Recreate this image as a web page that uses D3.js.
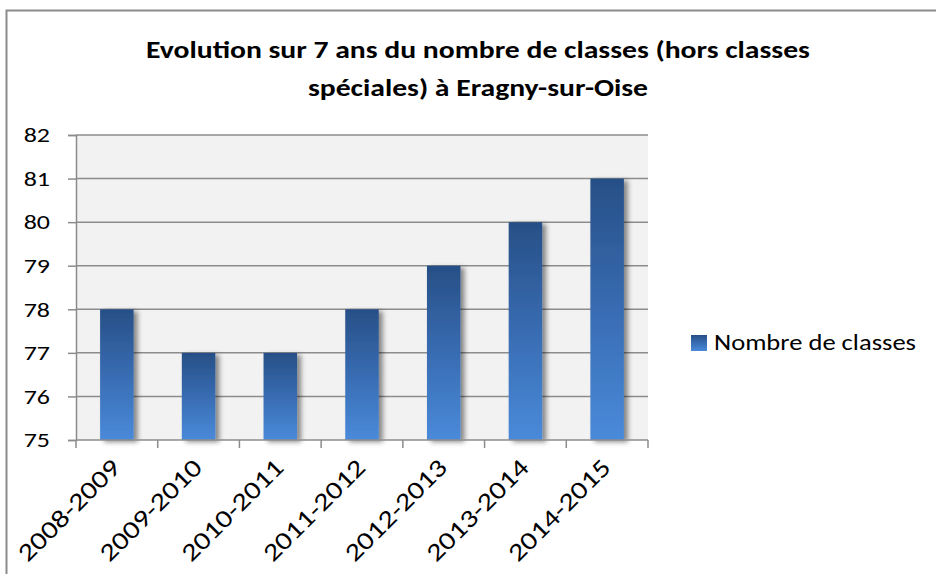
<!DOCTYPE html>
<html><head><meta charset="utf-8">
<script src="https://cdn.jsdelivr.net/npm/d3@7"></script>
<style>body{margin:0;background:#fff}svg{display:block}</style>
</head><body>
<svg id="c" width="936" height="574"></svg>
<script>
const categories = ["2008-2009","2009-2010","2010-2011","2011-2012","2012-2013","2013-2014","2014-2015"];
const values = [78,77,77,78,79,80,81];
const yTicks = [75,76,77,78,79,80,81,82];
const seriesName = "Nombre de classes";
const titleLines = ["Evolution sur 7 ans du nombre de classes (hors classes","spéciales) à Eragny-sur-Oise"];

const FONT = "Carlito, Calibri, Lato, 'Open Sans', sans-serif";
const SX = 1.235; // horizontal stretch of the reference text
const svg = d3.select("#c");
const W = 936, H = 574;
const m = {left:76, right:648, top:135, bottom:440};

function stretch(sel, k){
  k = k || SX;
  sel.each(function(){
    const len = this.getComputedTextLength();
    d3.select(this).attr("textLength", len*k).attr("lengthAdjust","spacingAndGlyphs");
  });
}

const defs = svg.append("defs");
const g = defs.append("linearGradient").attr("id","barGrad").attr("x1",0).attr("y1",0).attr("x2",0).attr("y2",1);
g.append("stop").attr("offset","0%").attr("stop-color","#274f86");
g.append("stop").attr("offset","50%").attr("stop-color","#386cb2");
g.append("stop").attr("offset","100%").attr("stop-color","#4a8ada");
const f = defs.append("filter").attr("id","sh").attr("x","-50%").attr("y","-20%").attr("width","200%").attr("height","140%");
f.append("feDropShadow").attr("dx",4).attr("dy",2).attr("stdDeviation",2.5).attr("flood-color","#000").attr("flood-opacity",0.45);

// frame
svg.append("path").attr("d",`M6.5,${H} V10.5 H${W}`).attr("fill","none").attr("stroke","#8c8c8c").attr("stroke-width",2);

// title
svg.append("g").selectAll("text").data(titleLines).join("text")
  .attr("x",478).attr("y",(d,i)=>58+i*38).attr("text-anchor","middle")
  .attr("font-family",FONT).attr("font-weight","bold").attr("font-size",24).attr("fill","#000")
  .text(d=>d).call(stretch);

const x = d3.scaleBand().domain(categories).range([m.left,m.right]).paddingInner(0.59).paddingOuter(0.295);
const y = d3.scaleLinear().domain([75,82]).range([m.bottom,m.top]);

// plot area
svg.append("rect").attr("x",m.left).attr("y",m.top).attr("width",m.right-m.left).attr("height",m.bottom-m.top).attr("fill","#f2f2f2");

// gridlines
svg.append("g").selectAll("line").data(yTicks.filter(t=>t>75)).join("line")
  .attr("x1",m.left).attr("x2",m.right).attr("y1",d=>y(d)).attr("y2",d=>y(d))
  .attr("stroke","#8c8c8c").attr("stroke-width",1.5);

// y axis
const yAxis = svg.append("g").attr("transform",`translate(${m.left},0)`)
  .call(d3.axisLeft(y).tickValues(yTicks).tickSize(8).tickPadding(18).tickFormat(d3.format("d")));
yAxis.select(".domain").attr("stroke","#8c8c8c").attr("stroke-width",1.5);
yAxis.selectAll(".tick line").attr("stroke","#8c8c8c").attr("stroke-width",1.5);
yAxis.selectAll(".tick text").attr("font-family",FONT).attr("font-size",21).attr("fill","#000").call(stretch);

// bars
svg.append("g").selectAll("rect").data(values).join("rect")
  .attr("x",(d,i)=>x(categories[i])).attr("width",x.bandwidth())
  .attr("y",d=>y(d)).attr("height",d=>y(75)-y(d))
  .attr("fill","url(#barGrad)").attr("filter","url(#sh)");

// x axis
const xb = d3.scalePoint().domain(d3.range(categories.length+1)).range([m.left,m.right]);
const xAxisG = svg.append("g");
xAxisG.append("line").attr("x1",m.left).attr("x2",m.right).attr("y1",m.bottom).attr("y2",m.bottom).attr("stroke","#8c8c8c").attr("stroke-width",1.5);
xAxisG.selectAll("line.t").data(d3.range(categories.length+1)).join("line").attr("class","t")
  .attr("x1",d=>xb(d)).attr("x2",d=>xb(d)).attr("y1",m.bottom).attr("y2",m.bottom+8).attr("stroke","#8c8c8c").attr("stroke-width",1.5);
xAxisG.selectAll("text").data(categories).join("text")
  .attr("transform",d=>`translate(${x(d)+x.bandwidth()/2+5},${m.bottom+29}) rotate(-45)`)
  .attr("text-anchor","end")
  .attr("font-family",FONT).attr("font-size",25).attr("fill","#000").text(d=>d).call(stretch, 1.22);

// legend
const lg = svg.append("g");
lg.append("rect").attr("x",691).attr("y",335).attr("width",16).attr("height",16).attr("fill","url(#barGrad)");
lg.append("text").attr("x",714).attr("y",350).attr("font-family",FONT).attr("font-size",21.5).attr("fill","#000").text(seriesName).call(stretch);
</script>
</body></html>
